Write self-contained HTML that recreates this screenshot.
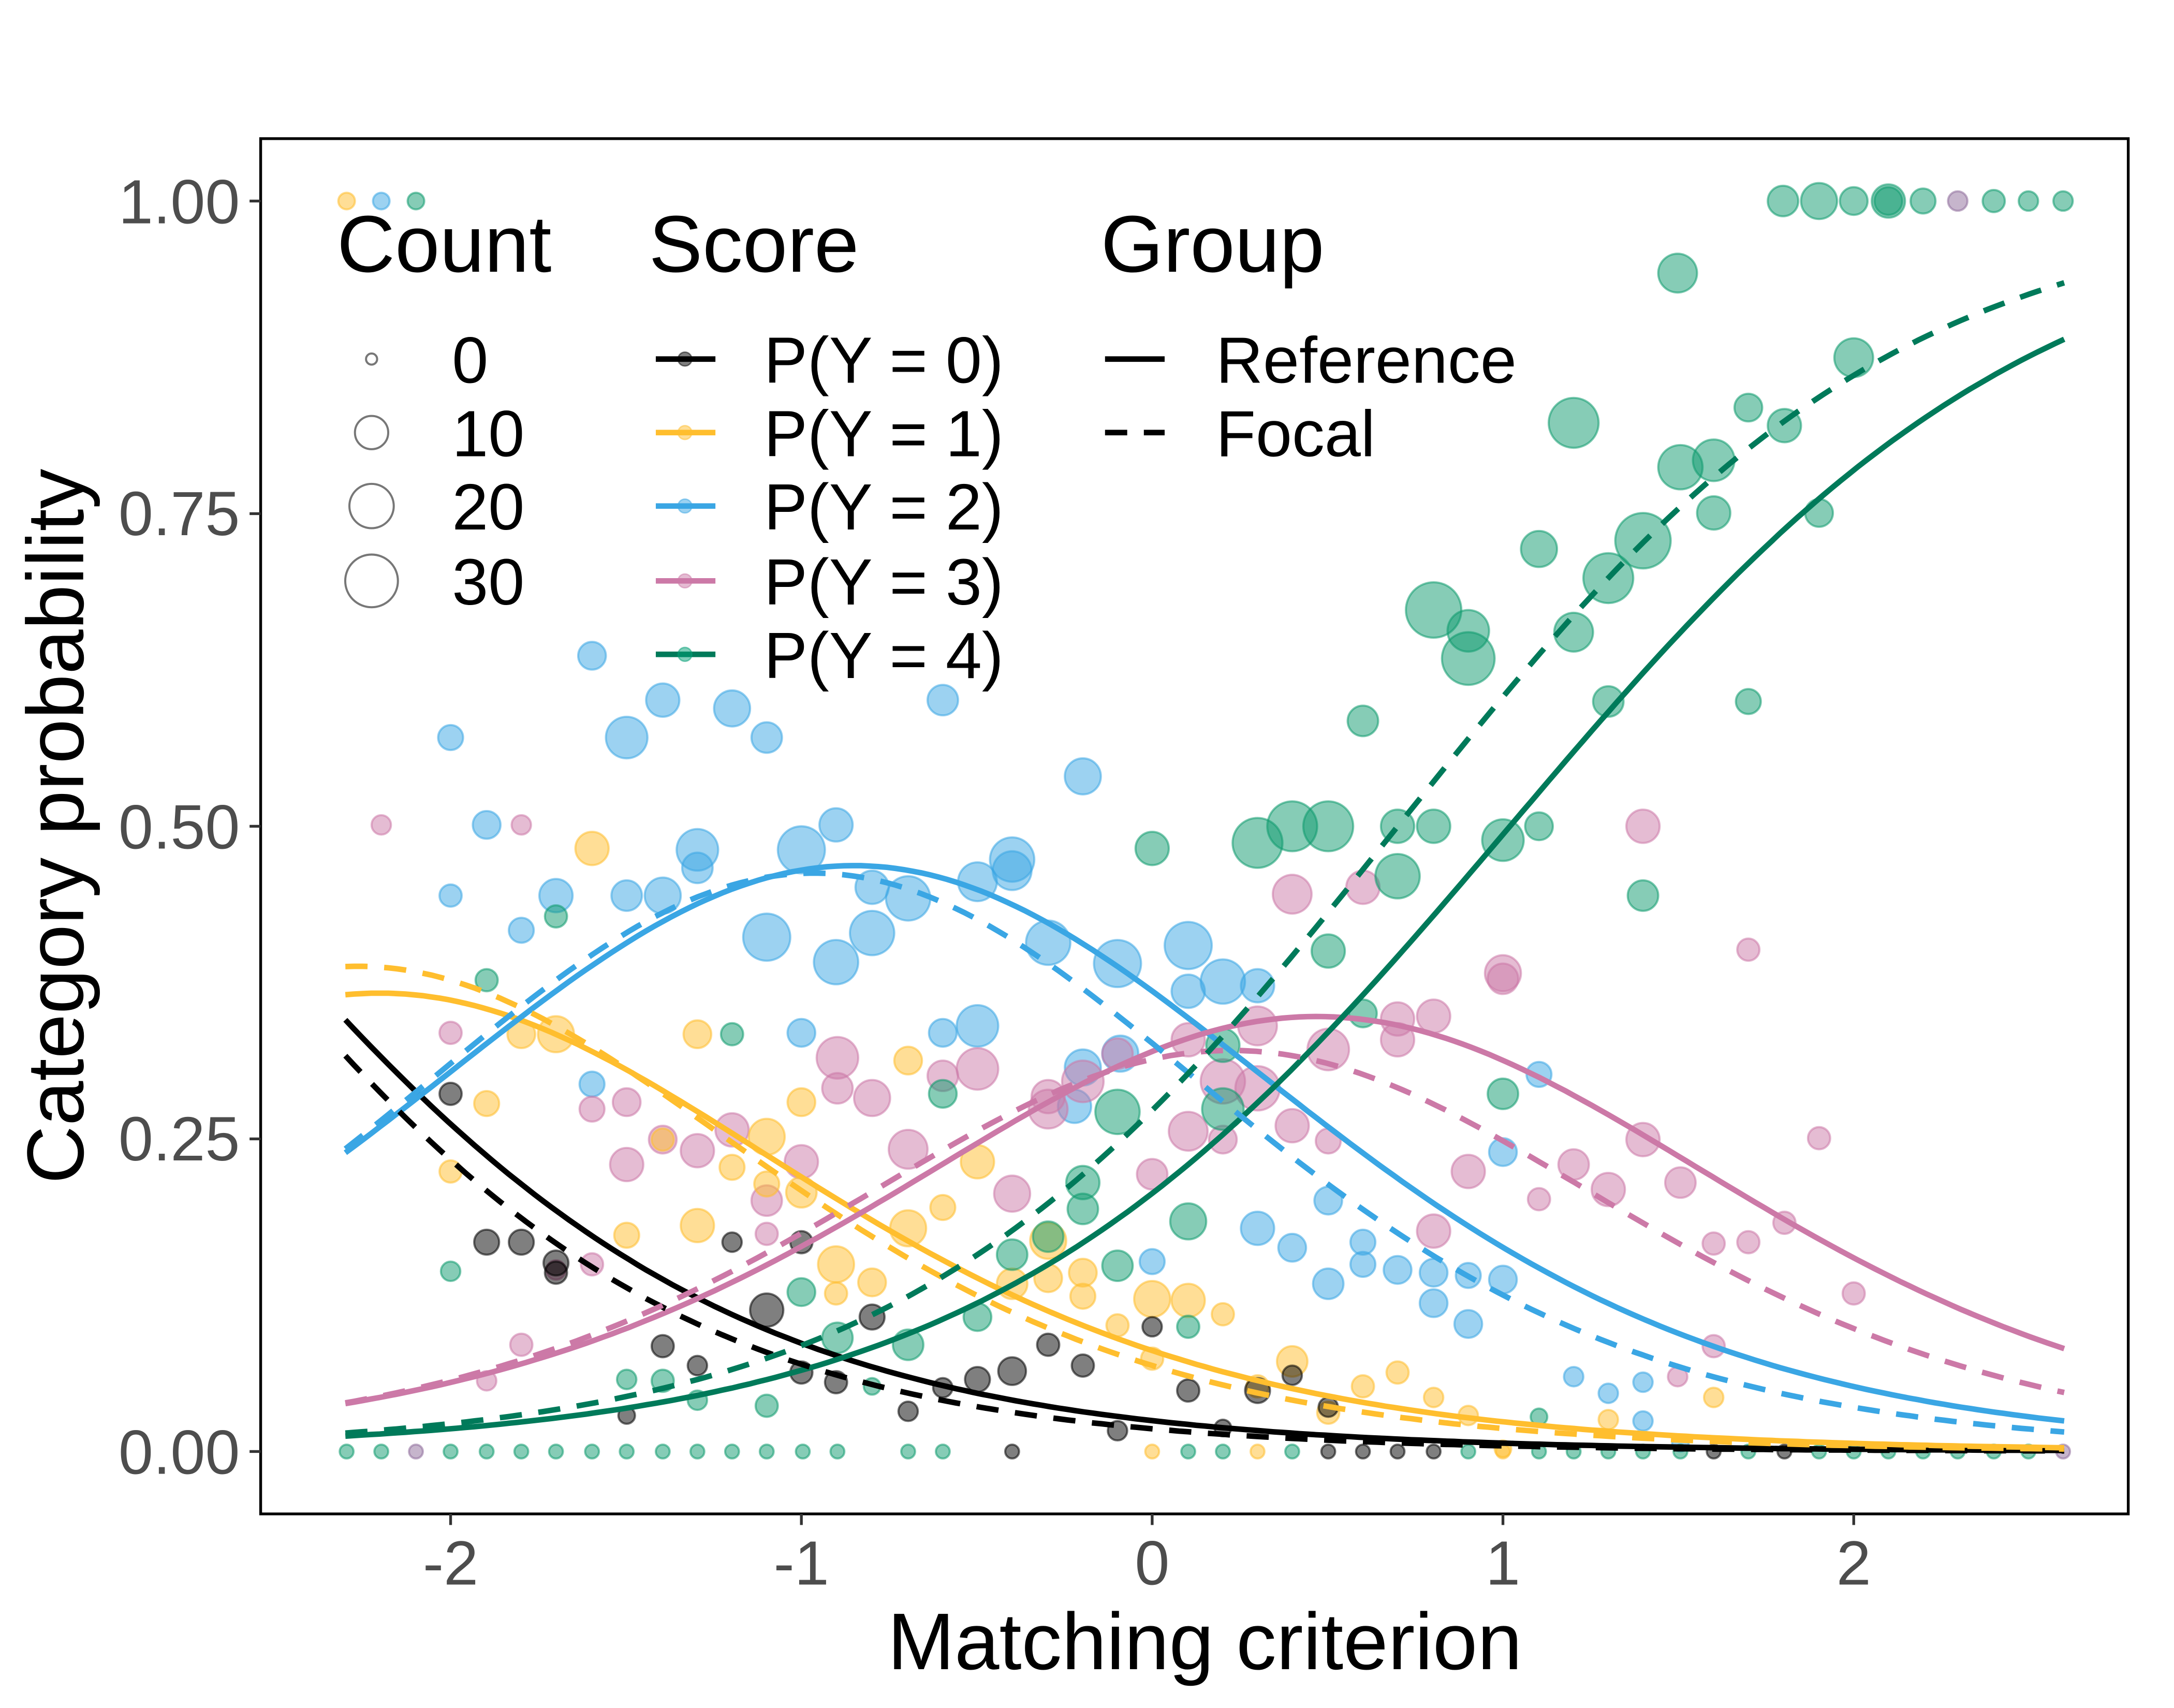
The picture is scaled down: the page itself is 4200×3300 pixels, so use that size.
<!DOCTYPE html>
<html><head><meta charset="utf-8"><style>html,body{margin:0;padding:0;background:#fff}svg{display:block}</style></head>
<body>
<svg id="s" width="4200" height="3300" viewBox="0 0 1568 1232" xmlns="http://www.w3.org/2000/svg" font-family="Liberation Sans, sans-serif">
<rect width="1568" height="1232" fill="#fff"/>
<g id="pts"></g>
<g id="curves" fill="none" stroke-width="4"></g>
<rect x="188" y="100" width="1347" height="992" fill="none" stroke="#000" stroke-width="2"/>
<g stroke="#333" stroke-width="2">
<line x1="180" y1="145" x2="188" y2="145"/><line x1="180" y1="370.5" x2="188" y2="370.5"/><line x1="180" y1="596" x2="188" y2="596"/><line x1="180" y1="821.5" x2="188" y2="821.5"/><line x1="180" y1="1047" x2="188" y2="1047"/>
<line x1="325" y1="1092" x2="325" y2="1100"/><line x1="578" y1="1092" x2="578" y2="1100"/><line x1="831" y1="1092" x2="831" y2="1100"/><line x1="1084" y1="1092" x2="1084" y2="1100"/><line x1="1337" y1="1092" x2="1337" y2="1100"/>
</g>
<g fill="#4D4D4D" font-size="45" text-anchor="end">
<text x="173" y="161">1.00</text><text x="173" y="386">0.75</text><text x="173" y="612">0.50</text><text x="173" y="837">0.25</text><text x="173" y="1063">0.00</text>
</g>
<g fill="#4D4D4D" font-size="45" text-anchor="middle">
<text x="325" y="1143">-2</text><text x="578" y="1143">-1</text><text x="831" y="1143">0</text><text x="1084" y="1143">1</text><text x="1337" y="1143">2</text>
</g>
<text x="869" y="1204" font-size="58" text-anchor="middle">Matching criterion</text>
<text transform="translate(60,596) rotate(-90)" font-size="58" text-anchor="middle">Category probability</text>
<g font-size="58"><text x="243" y="196">Count</text><text x="468" y="196">Score</text><text x="794" y="196">Group</text></g>
<g font-size="47">
<text x="326" y="276">0</text><text x="326" y="329">10</text><text x="326" y="382">20</text><text x="326" y="436">30</text>
<text x="551" y="276">P(Y = 0)</text><text x="551" y="329">P(Y = 1)</text><text x="551" y="382">P(Y = 2)</text><text x="551" y="436">P(Y = 3)</text><text x="551" y="489">P(Y = 4)</text>
<text x="877" y="276">Reference</text><text x="877" y="329">Focal</text>
</g>
<g fill="none" stroke="#777" stroke-width="1.5">
<circle cx="268" cy="259" r="4"/><circle cx="268" cy="312" r="12"/><circle cx="268" cy="365" r="16"/><circle cx="268" cy="419" r="19"/>
</g>
<g stroke-width="4">
<line x1="473" y1="259" x2="516" y2="259" stroke="#000"/><line x1="473" y1="312" x2="516" y2="312" stroke="#FFBE2E"/><line x1="473" y1="365" x2="516" y2="365" stroke="#3AA6E4"/><line x1="473" y1="419" x2="516" y2="419" stroke="#CC79A7"/><line x1="473" y1="472" x2="516" y2="472" stroke="#007A5A"/>
<line x1="797" y1="259" x2="840" y2="259" stroke="#000"/><line x1="797" y1="312" x2="840" y2="312" stroke="#000" stroke-dasharray="16 12"/>
</g>
<g fill-opacity="0.5" stroke-opacity="0.5">
<circle cx="494" cy="259" r="5" fill="#000" stroke="#000"/><circle cx="494" cy="312" r="5" fill="#FFBE2E" stroke="#FFBE2E"/><circle cx="494" cy="365" r="5" fill="#3AA6E4" stroke="#3AA6E4"/><circle cx="494" cy="419" r="5" fill="#CC79A7" stroke="#CC79A7"/><circle cx="494" cy="472" r="5" fill="#009E73" stroke="#009E73"/>
</g>
<script>
(function(){
var NS="http://www.w3.org/2000/svg";
var C={k:"#000000",y:"#FFBE2E",b:"#3AA6E4",p:"#CC79A7",g:"#0E9A6E",pu:"#8E6C9A",o:"#EE9A40"};
var P={
b:[[275,145,6],[325,532,9],[325,646,8],[351,595,10],[376,671,9],[401,646,12],[427,473,10],[452,532,15],[452,646,11],[478,505,12],[478,646,13],[503,613,15],[503,626,11],[528,511,13],[553,532,11],[553,676,17],[578,745,10],[578,613,17],[603,595,12],[603,694,16],[629,640,12],[629,673,16],[655,648,16],[680,505,11],[680,745,10],[705,636,14],[705,740,15],[730,620,16],[730,628,14],[756,680,16],[781,560,13],[781,770,13],[806,695,17],[831,910,9],[857,682,17],[857,715,12],[882,708,16],[907,711,12],[907,886,12],[932,900,10],[958,866,10],[958,926,11],[983,912,9],[983,896,9],[1008,916,10],[1034,940,10],[1034,918,10],[1059,920,9],[1059,955,10],[1084,923,10],[1084,831,10],[1110,775,9],[1135,993,7],[1160,1005,7],[1185,997,7],[1185,1025,7],[1212,1041,6],[808,760,13],[775,798,12],[427,782,9]],
p:[[275,595,7],[325,745,8],[351,996,7],[376,595,7],[376,970,8],[401,916,7],[427,800,9],[427,912,8],[452,795,10],[452,840,12],[478,822,10],[503,830,12],[528,815,12],[553,866,11],[553,890,8],[578,838,12],[604,763,15],[604,785,11],[629,792,13],[655,829,14],[680,776,11],[705,771,15],[730,861,13],[756,791,12],[756,800,14],[781,780,15],[806,760,11],[831,847,11],[857,816,14],[857,750,12],[882,780,16],[882,822,10],[907,740,14],[907,785,16],[932,645,14],[932,812,12],[958,757,15],[958,823,9],[983,640,12],[1008,750,12],[1008,735,12],[1034,888,12],[1034,733,12],[1059,845,12],[1084,702,13],[1084,706,11],[1110,865,8],[1135,840,11],[1160,858,12],[1185,596,12],[1185,822,12],[1212,853,11],[1236,897,8],[1261,685,8],[1312,821,8],[1337,933,8],[1287,882,8],[1261,896,8],[1236,971,8],[1210,993,7]],
y:[[250,145,6],[325,845,8],[351,796,9],[376,746,10],[401,746,13],[427,612,12],[452,891,9],[478,822,8],[503,746,10],[503,884,12],[528,842,9],[553,820,13],[553,854,9],[578,795,10],[578,860,11],[603,912,13],[603,933,8],[629,925,10],[655,886,13],[655,765,10],[680,871,9],[705,838,12],[730,926,11],[756,895,13],[756,922,10],[781,918,10],[781,935,9],[806,956,8],[831,937,13],[857,938,12],[882,948,8],[907,1000,8],[932,982,11],[958,1019,8],[983,1000,8],[1008,990,8],[1034,1008,7],[1059,1021,7],[1084,1045,6],[1160,1024,7],[1236,1008,7],[831,980,8],[831,1047,5],[907,1047,5],[1084,1047,5]],
k:[[325,789,8],[351,896,9],[376,896,9],[401,911,9],[401,918,8],[452,1021,6],[478,971,8],[503,985,7],[528,896,7],[553,945,12],[578,990,8],[578,896,8],[603,997,8],[629,950,9],[655,1018,7],[680,1001,7],[705,995,9],[730,989,10],[756,970,8],[781,985,8],[806,1032,7],[831,957,7],[857,1003,8],[882,1030,6],[907,1003,9],[932,992,7],[958,1015,7],[983,1047,5],[958,1047,5],[1034,1047,5],[730,1047,5],[1008,1047,5],[1236,1047,5],[1287,1047,5]],
g:[[300,145,6],[1286,145,11],[1312,145,13],[1337,145,10],[1362,145,12],[1362,145,10],[1387,145,9],[1438,145,8],[1463,145,7],[1488,145,7],[325,917,7],[351,707,8],[401,661,8],[452,995,7],[478,996,8],[503,1010,7],[528,746,8],[553,1014,8],[578,932,10],[604,965,11],[629,1000,6],[655,970,11],[680,789,10],[705,950,10],[730,905,11],[756,892,11],[781,853,12],[781,872,11],[806,913,11],[806,802,16],[831,612,12],[857,957,8],[857,881,13],[882,800,15],[882,754,12],[907,608,18],[932,596,18],[958,596,18],[958,686,12],[983,731,10],[983,520,11],[1008,596,12],[1034,596,12],[1008,632,16],[1034,440,20],[1059,455,15],[1059,475,19],[1084,606,15],[1110,396,13],[1110,596,10],[1135,305,18],[1135,456,14],[1160,417,18],[1160,506,11],[1185,390,20],[1185,646,11],[1210,197,14],[1212,337,16],[1236,332,15],[1236,370,12],[1261,294,10],[1261,506,9],[1287,307,12],[1312,370,10],[1337,258,14],[1084,789,11],[1160,1047,5],[1110,1022,6]],
pu:[[1412,145,7],[300,1047,5],[1488,1047,5]]
};
var bx=[250,275,325,351,376,401,427,452,478,503,528,553,579,604,655,680,857,882,932,1059,1110,1135,1185,1212,1261,1312,1337,1362,1387,1412,1438,1463];
bx.forEach(function(x){P.g.push([x,1047,5]);});
var g=document.getElementById("pts");
Object.keys(P).forEach(function(k){P[k].forEach(function(d){var c=document.createElementNS(NS,"circle");c.setAttribute("cx",d[0]);c.setAttribute("cy",d[1]);c.setAttribute("r",d[2]);c.setAttribute("fill",C[k]);c.setAttribute("fill-opacity","0.5");c.setAttribute("stroke",C[k]);c.setAttribute("stroke-opacity","0.55");c.setAttribute("stroke-width","1.5");g.appendChild(c);});});
function L(z){return 1/(1+Math.exp(-z));}
function probs(a,b,x){var c=[1];for(var i=0;i<4;i++)c.push(L(a*(x-b[i])));c.push(0);var r=[];for(var j=0;j<5;j++)r.push(c[j]-c[j+1]);return r;}
var cols=["#000000","#FFBE2E","#3AA6E4","#CC79A7","#007A5A"];
var cg=document.getElementById("curves");
function draw(a,b,dash){for(var k=0;k<5;k++){var d="";for(var i=0;i<=200;i++){var x=-2.3+4.9*i/200;var y=probs(a,b,x)[k];d+=(i?"L":"M")+(831+253*x).toFixed(1)+","+(1047-902*y).toFixed(1);}var p=document.createElementNS(NS,"path");p.setAttribute("d",d);p.setAttribute("stroke",cols[k]);if(dash)p.setAttribute("stroke-dasharray","16 12");cg.appendChild(p);}}
draw(1.32,[-2.785,-1.62,-0.08,1.02],false);
draw(1.4,[-2.85,-1.68,-0.25,0.7],true);
})();
</script>
</svg>
</body></html>
